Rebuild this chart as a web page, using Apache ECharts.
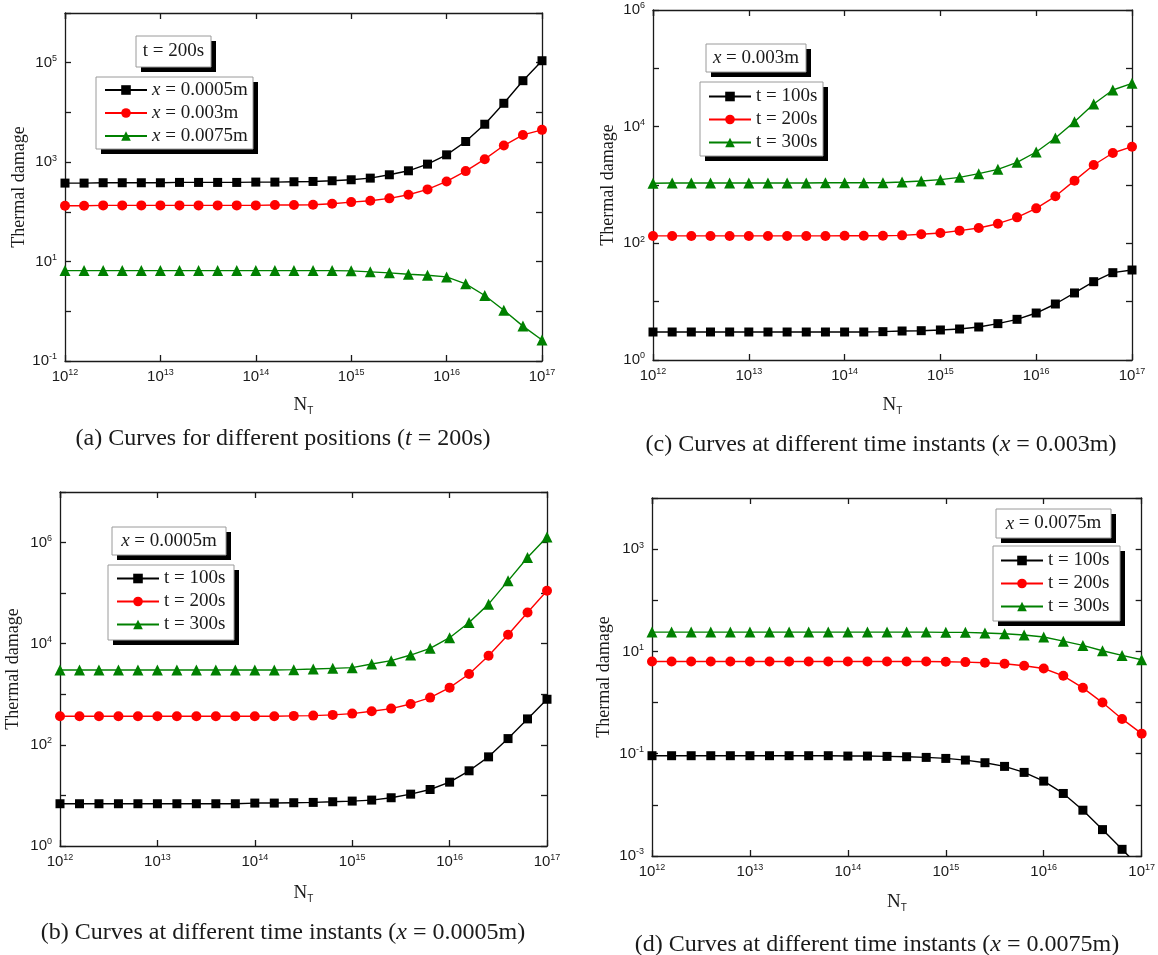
<!DOCTYPE html>
<html>
<head>
<meta charset="utf-8">
<title>Thermal damage vs N_T</title>
<script src="https://cdn.jsdelivr.net/npm/echarts@6/dist/echarts.min.js"></script>
<style>
  html, body { margin: 0; padding: 0; background: #fff; }
  #chart { width: 1158px; height: 955px; }
</style>
</head>
<body>
<div id="chart"></div>
<script>
// N_T sample points: five per decade from 1e12 to 1e17
const NT = [
  1e12, 1.585e12, 2.512e12, 3.981e12, 6.310e12,
  1e13, 1.585e13, 2.512e13, 3.981e13, 6.310e13,
  1e14, 1.585e14, 2.512e14, 3.981e14, 6.310e14,
  1e15, 1.585e15, 2.512e15, 3.981e15, 6.310e15,
  1e16, 1.585e16, 2.512e16, 3.981e16, 6.310e16,
  1e17
];

// (a) t = 200s, different positions
const a_x0005 = [379, 379, 385, 385, 385, 385, 391, 391, 391, 391, 397, 397, 403, 409, 422, 442, 477, 557, 670, 912, 1403, 2600, 5790, 15270, 43500, 109600];
const a_x003  = [133, 133, 135, 135, 135, 135, 135, 135, 135, 135, 135, 137, 137, 139, 146, 157, 167, 187, 221, 283, 409, 660, 1148, 2160, 3530, 4460];
const a_x0075 = [6.59, 6.59, 6.59, 6.59, 6.59, 6.59, 6.59, 6.59, 6.59, 6.59, 6.59, 6.59, 6.59, 6.59, 6.59, 6.50, 6.21, 5.93, 5.57, 5.32, 4.92, 3.56, 2.08, 1.05, 0.503, 0.264];

// (c) x = 0.003m, different time instants
const c_t100 = [3.02, 3.02, 3.02, 3.02, 3.02, 3.02, 3.02, 3.02, 3.02, 3.02, 3.02, 3.02, 3.06, 3.14, 3.18, 3.27, 3.40, 3.68, 4.20, 4.98, 6.39, 9.12, 14.1, 22.0, 31.4, 34.9];
const c_t200 = [134, 134, 134, 134, 134, 134, 134, 134, 134, 134, 135, 135, 135, 137, 143, 150, 165, 183, 217, 279, 398, 640, 1187, 2202, 3537, 4540];
const c_t300 = [1069, 1082, 1082, 1082, 1082, 1082, 1082, 1082, 1082, 1096, 1096, 1096, 1096, 1125, 1171, 1234, 1353, 1564, 1856, 2447, 3680, 6390, 12180, 24490, 42530, 55300];

// (b) x = 0.0005m, different time instants
const b_t100 = [6.85, 6.85, 6.85, 6.85, 6.85, 6.85, 6.85, 6.85, 6.85, 6.85, 7.06, 7.06, 7.17, 7.28, 7.50, 7.73, 8.09, 9.0, 10.6, 13.1, 18.3, 30.7, 57.9, 133, 326, 797];
const b_t200 = [368, 368, 368, 368, 368, 368, 368, 368, 368, 368, 368, 368, 374, 379, 391, 415, 462, 521, 644, 859, 1354, 2520, 5790, 15050, 41500, 111200];
const b_t300 = [3020, 3020, 3020, 3020, 3020, 3020, 3020, 3020, 3020, 3020, 3020, 3020, 3070, 3160, 3260, 3360, 3970, 4620, 5970, 8090, 13130, 26360, 60650, 175000, 506000, 1294000];

// (d) x = 0.0075m, different time instants
const d_t100 = [0.0914, 0.0914, 0.0914, 0.0914, 0.0914, 0.0914, 0.0914, 0.0914, 0.0914, 0.0914, 0.0900, 0.0900, 0.0887, 0.0873, 0.0847, 0.0809, 0.0751, 0.0667, 0.0565, 0.0431, 0.0291, 0.0167, 0.00786, 0.00328, 0.00135, 0.00055];
const d_t200 = [6.37, 6.37, 6.37, 6.37, 6.37, 6.37, 6.37, 6.37, 6.37, 6.37, 6.37, 6.37, 6.37, 6.37, 6.37, 6.27, 6.18, 5.99, 5.73, 5.24, 4.64, 3.34, 1.94, 1.0, 0.479, 0.247];
const d_t300 = [23.9, 23.9, 23.9, 23.9, 23.9, 23.9, 23.9, 23.9, 23.9, 23.9, 23.9, 23.9, 23.9, 23.9, 23.9, 23.6, 23.6, 22.9, 22.2, 20.9, 19.1, 15.9, 13.1, 10.3, 8.36, 6.87];

// Series names and styles
const posNames  = ['x = 0.0005m', 'x = 0.003m', 'x = 0.0075m'];
const timeNames = ['t = 100s', 't = 200s', 't = 300s'];
const colors  = ['#000000', '#ff0000', '#008000'];
const symbols = ['rect', 'circle', 'triangle'];
const symbolSizes = [9, 10, 11];

// Axis ranges (decades)
const xRange = [1e12, 1e17];
const yRanges = { a: [1e-1, 1e6], c: [1e0, 1e6], b: [1e0, 1e7], d: [1e-3, 1e4] };
const yLabelStart = { a: -1, c: 0, b: 0, d: -3 };

// Captions and box tags
const captions = {
  a: '(a) Curves for different positions ({i|t} = 200s)',
  c: '(c) Curves at different time instants ({i|x} = 0.003m)',
  b: '(b) Curves at different time instants ({i|x} = 0.0005m)',
  d: '(d) Curves at different time instants ({i|x} = 0.0075m)'
};
const tags = { a: 't = 200s', c: '{i|x} = 0.003m', b: '{i|x} = 0.0005m', d: '{i|x} = 0.0075m' };

const SERIF = '"Liberation Serif", "Times New Roman", serif';
const SANS = '"Liberation Sans", Arial, sans-serif';
const INK = '#1a1a1a';

// Panel layout
const panels = [
  { key: 'a', grid: { left: 65, top: 13, width: 477, height: 348 },
    lines: [a_x0005, a_x003, a_x0075], names: posNames,
    tagBox: [136, 36, 75, 31], legendBox: [96, 77, 157, 72], legendPos: [104, 80.5],
    caption: [283, 439], gapY: 36, gapX: 33 },
  { key: 'c', grid: { left: 653, top: 10, width: 479, height: 350 },
    lines: [c_t100, c_t200, c_t300], names: timeNames,
    tagBox: [706, 44, 100, 28], legendBox: [700, 82, 123, 74], legendPos: [708, 87],
    caption: [881, 445], gapY: 36, gapX: 34 },
  { key: 'b', grid: { left: 60, top: 492, width: 487, height: 354 },
    lines: [b_t100, b_t200, b_t300], names: timeNames,
    tagBox: [112, 527, 114, 28], legendBox: [108, 565, 126, 75], legendPos: [116, 569],
    caption: [283, 933], gapY: 38, gapX: 36 },
  { key: 'd', grid: { left: 652, top: 498, width: 490, height: 358 },
    lines: [d_t100, d_t200, d_t300], names: timeNames,
    tagBox: [996, 509, 115, 29], legendBox: [993, 546, 127, 75], legendPos: [1000, 551],
    caption: [877, 945], gapY: 39, gapX: 35 }
];

const powRich = {
  b: { fontFamily: SANS, fontSize: 15, lineHeight: 17, color: INK },
  s: { fontFamily: SANS, fontSize: 9, lineHeight: 9, verticalAlign: 'top', color: INK }
};
function expOf(v) { return Math.round(Math.log10(v)); }

const grids = [], xAxes = [], yAxes = [], series = [], legends = [], graphics = [];

panels.forEach((p, gi) => {
  grids.push(Object.assign({ containLabel: false }, p.grid));
  const axisLine = { show: true, onZero: false, lineStyle: { color: INK, width: 1.3 } };
  const axisTick = { show: true, inside: true, length: 6, lineStyle: { color: INK, width: 1.3 } };
  const [ymin, ymax] = yRanges[p.key];
  const start = yLabelStart[p.key];

  // bottom and top x axes
  xAxes.push({
    type: 'log', logBase: 10, gridIndex: gi, min: xRange[0], max: xRange[1], splitNumber: 5,
    position: 'bottom', axisLine, axisTick, splitLine: { show: false },
    axisLabel: { margin: 7, showMinLabel: true, showMaxLabel: true, rich: powRich,
      formatter: v => '{b|10}{s|' + expOf(v) + '}' },
    name: '{n|N}{t|T}', nameLocation: 'middle', nameGap: p.gapX,
    nameTextStyle: { rich: {
      n: { fontFamily: SERIF, fontSize: 19, lineHeight: 22, color: INK },
      t: { fontFamily: SANS, fontSize: 10, lineHeight: 22, verticalAlign: 'bottom', color: INK }
    } }
  });
  xAxes.push({
    type: 'log', logBase: 10, gridIndex: gi, min: xRange[0], max: xRange[1], splitNumber: 5,
    position: 'top', axisLine, axisTick, splitLine: { show: false }, axisLabel: { show: false }
  });

  // left and right y axes
  const ySplit = Math.round(Math.log10(ymax / ymin));
  yAxes.push({
    type: 'log', logBase: 10, gridIndex: gi, min: ymin, max: ymax, splitNumber: ySplit,
    position: 'left', axisLine, axisTick, splitLine: { show: false },
    axisLabel: { margin: 8, showMinLabel: true, showMaxLabel: true, rich: powRich,
      formatter: v => {
        const e = expOf(v);
        return (((e - start) % 2) + 2) % 2 === 0 ? '{b|10}{s|' + e + '}' : '';
      } },
    name: 'Thermal damage', nameLocation: 'middle', nameRotate: 90, nameGap: p.gapY,
    nameTextStyle: { fontFamily: SERIF, fontSize: 18, color: INK }
  });
  yAxes.push({
    type: 'log', logBase: 10, gridIndex: gi, min: ymin, max: ymax, splitNumber: ySplit,
    position: 'right', axisLine, axisTick, splitLine: { show: false }, axisLabel: { show: false }
  });

  // curves
  p.lines.forEach((vals, si) => {
    series.push({
      type: 'line', name: p.names[si], xAxisIndex: gi * 2, yAxisIndex: gi * 2,
      data: NT.map((x, i) => [x, vals[i]]),
      symbol: symbols[si], symbolSize: symbolSizes[si], showSymbol: true,
      clip: true, animation: false,
      itemStyle: { color: colors[si] },
      lineStyle: { color: colors[si], width: 1.4 },
      emphasis: { disabled: true }
    });
  });

  // legend
  legends.push({
    data: p.names, orient: 'vertical', left: p.legendPos[0], top: p.legendPos[1],
    padding: 0, itemWidth: 42, itemHeight: 12, itemGap: 4, itemTextGap: 5,
    selectedMode: false, z: 60,
    lineStyle: { width: 2 },
    textStyle: { fontFamily: SERIF, fontSize: 19, lineHeight: 19, color: INK,
      rich: { i: { fontFamily: SERIF, fontSize: 19, lineHeight: 19, fontStyle: 'italic', color: INK } } },
    formatter: name => name.charAt(0) === 'x' ? '{i|x}' + name.slice(1) : name
  });

  // framed boxes with offset dark shadow
  const boxes = [p.tagBox, p.legendBox];
  boxes.forEach(b => {
    graphics.push({ type: 'rect', z: 50, shape: { x: b[0] + 5, y: b[1] + 5, width: b[2], height: b[3] },
      style: { fill: '#000' } });
    graphics.push({ type: 'rect', z: 51, shape: { x: b[0], y: b[1], width: b[2], height: b[3] },
      style: { fill: '#fff', stroke: '#9a9a9a', lineWidth: 1 } });
  });
  graphics.push({
    type: 'text', z: 52, x: p.tagBox[0] + p.tagBox[2] / 2, y: p.tagBox[1] + p.tagBox[3] / 2,
    style: { text: tags[p.key], align: 'center', verticalAlign: 'middle',
      fontFamily: SERIF, fontSize: 19, fill: INK,
      rich: { i: { fontFamily: SERIF, fontSize: 19, fontStyle: 'italic', fill: INK } } }
  });

  // caption
  graphics.push({
    type: 'text', z: 52, x: p.caption[0], y: p.caption[1],
    style: { text: captions[p.key], align: 'center', verticalAlign: 'middle',
      fontFamily: SERIF, fontSize: 24, fill: INK,
      rich: { i: { fontFamily: SERIF, fontSize: 24, fontStyle: 'italic', fill: INK } } }
  });
});

const chart = echarts.init(document.getElementById('chart'), null, { renderer: 'canvas' });
chart.setOption({
  backgroundColor: '#ffffff',
  animation: false,
  grid: grids,
  xAxis: xAxes,
  yAxis: yAxes,
  legend: legends,
  series: series,
  graphic: { elements: graphics }
});
</script>
</body>
</html>
